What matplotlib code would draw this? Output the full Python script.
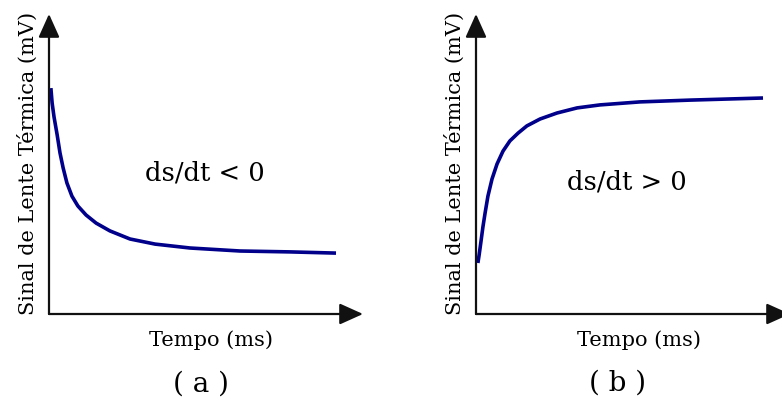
import matplotlib
matplotlib.use("Agg")
import matplotlib.pyplot as plt

# Panel (a): ds/dt < 0  (arbitrary units, 0..10)
t_a = [0.06, 0.10, 0.16, 0.26, 0.35, 0.45, 0.57, 0.73, 0.92, 1.18, 1.50, 1.94, 2.58,
       3.38, 4.49, 6.08, 7.68, 9.14]
s_a = [7.53, 7.03, 6.57, 5.97, 5.37, 4.87, 4.37, 3.93, 3.60, 3.30, 3.03, 2.77, 2.50,
       2.33, 2.20, 2.10, 2.07, 2.03]

# Panel (b): ds/dt > 0
t_b = [0.06, 0.10, 0.16, 0.22, 0.29, 0.38, 0.51, 0.67, 0.86, 1.08, 1.34, 1.62, 2.04,
       2.58, 3.22, 3.95, 5.22, 6.82, 9.14]
s_b = [1.70, 1.97, 2.43, 2.90, 3.37, 3.93, 4.50, 5.00, 5.43, 5.77, 6.03, 6.27, 6.50,
       6.70, 6.87, 6.97, 7.07, 7.13, 7.20]

ylabel = "Sinal de Lente Térmica (mV)"
xlabel = "Tempo (ms)"
notes = ["ds/dt < 0", "ds/dt > 0"]
tags = ["( a )", "( b )"]

W, H = 782, 403
fig = plt.figure(figsize=(W / 100, H / 100), dpi=100)
plt.rcParams['font.family'] = ['DejaVu Serif', 'Liberation Serif']

curve_color = "#00008B"


def px(x, y, w, h):
    return [x / W, (H - y - h) / H, w / W, h / H]


panels = [
    dict(rect=px(49, 14, 314, 300), t=t_a, s=s_a, note=notes[0], note_xy=(205, 173),
         xl_xy=(211, 340), tag_xy=(201, 384), yl_x=28, tag=tags[0]),
    dict(rect=px(476, 14, 314, 300), t=t_b, s=s_b, note=notes[1], note_xy=(627, 182),
         xl_xy=(639, 340), tag_xy=(618, 383), yl_x=455, tag=tags[1]),
]

for p in panels:
    ax = fig.add_axes(p["rect"])
    ax.set_xlim(0, 10)
    ax.set_ylim(0, 10)
    ax.axis("off")
    ax.plot(p["t"], p["s"], color=curve_color, lw=2.6, solid_capstyle="butt",
            solid_joinstyle="round", clip_on=False)
    arrow = dict(arrowstyle="-|>,head_length=0.8,head_width=0.36", mutation_scale=18,
                 color="#111111", lw=1.6, shrinkA=0, shrinkB=0)
    ax.annotate("", xy=(1, 0), xytext=(0, 0), xycoords="axes fraction",
                textcoords="axes fraction", arrowprops=arrow, annotation_clip=False)
    ax.annotate("", xy=(0, 1), xytext=(0, 0), xycoords="axes fraction",
                textcoords="axes fraction", arrowprops=arrow, annotation_clip=False)
    fig.text(p["note_xy"][0] / W, 1 - p["note_xy"][1] / H, p["note"], fontsize=18.5,
             ha="center", va="center")
    fig.text(p["xl_xy"][0] / W, 1 - p["xl_xy"][1] / H, xlabel, fontsize=15,
             ha="center", va="center")
    fig.text(p["tag_xy"][0] / W, 1 - p["tag_xy"][1] / H, p["tag"], fontsize=20,
             ha="center", va="center")
    fig.text(p["yl_x"] / W, 1 - 163 / H, ylabel, fontsize=15, rotation=90,
             ha="center", va="center")

fig.savefig("out.png", dpi=100)
